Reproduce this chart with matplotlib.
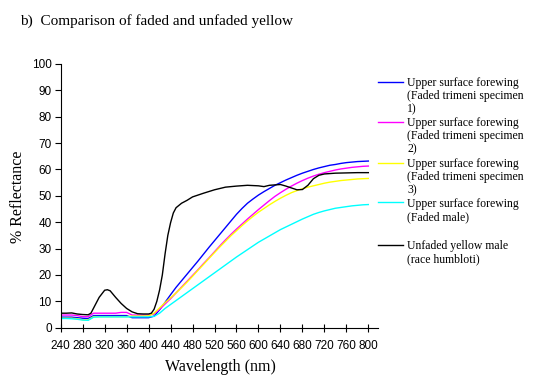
#!/usr/bin/env python3
# Reflectance spectra: faded vs unfaded yellow

import matplotlib
matplotlib.use("Agg")
import matplotlib.pyplot as plt
from matplotlib.lines import Line2D

# wavelength grid (nm) for the four faded curves
wl = list(range(240, 801, 10))

spec1 = [4.0, 4.0, 4.0, 3.8, 3.6, 3.5, 4.6, 4.6, 4.6, 4.6, 4.6, 4.6, 4.6, 3.8, 3.8,
         3.8, 3.8, 4.4, 6.8, 9.6, 12.5, 15.3, 17.8, 20.3, 22.8, 25.3, 27.9, 30.5,
         33.0, 35.5, 38.0, 40.5, 43.0, 45.2, 47.2, 48.8, 50.3, 51.6, 52.8, 54.0,
         55.0, 56.0, 56.9, 57.8, 58.6, 59.3, 60.0, 60.6, 61.1, 61.6, 61.9, 62.3,
         62.6, 62.8, 63.0, 63.1, 63.2]
spec2 = [4.8, 4.8, 4.8, 4.6, 4.2, 4.2, 5.5, 5.5, 5.5, 5.5, 5.5, 5.8, 5.8, 4.8, 4.8,
         4.8, 4.8, 5.2, 7.0, 9.0, 11.0, 13.2, 15.4, 17.6, 19.8, 22.0, 24.3, 26.5,
         28.8, 31.1, 33.3, 35.4, 37.4, 39.3, 41.2, 43.0, 44.8, 46.5, 48.2, 49.8,
         51.2, 52.5, 53.7, 54.8, 55.8, 56.7, 57.5, 58.2, 58.8, 59.3, 59.8, 60.2,
         60.5, 60.8, 61.0, 61.2, 61.3]
spec3 = [3.6, 3.6, 3.6, 3.4, 3.0, 3.0, 4.2, 4.2, 4.2, 4.2, 4.2, 4.2, 4.2, 4.4, 4.4,
         4.4, 4.5, 5.5, 7.5, 9.5, 11.3, 13.2, 15.2, 17.3, 19.5, 21.8, 24.0, 26.3,
         28.5, 30.7, 32.8, 34.9, 36.8, 38.7, 40.5, 42.2, 43.8, 45.2, 46.6, 47.9,
         49.1, 50.2, 51.2, 52.0, 52.7, 53.3, 53.8, 54.3, 54.8, 55.2, 55.5, 55.8,
         56.0, 56.2, 56.4, 56.5, 56.6]
faded_male = [3.5, 3.5, 3.4, 3.2, 2.9, 2.8, 4.0, 4.1, 4.1, 4.1, 4.1, 4.1, 4.1, 4.1,
              4.1, 4.1, 4.1, 4.3, 5.5, 7.3, 8.8, 10.3, 11.8, 13.3, 14.8, 16.3, 17.8,
              19.3, 20.8, 22.3, 23.8, 25.3, 26.8, 28.2, 29.6, 31.0, 32.4, 33.6, 34.8,
              36.0, 37.2, 38.2, 39.2, 40.2, 41.2, 42.1, 43.0, 43.7, 44.3, 44.8, 45.3,
              45.6, 45.9, 46.2, 46.4, 46.6, 46.7]

# unfaded curve has its own, finer sampling around the steep rise
wl_unfaded = [240, 250, 260, 270, 280, 290, 295, 300, 310, 320, 325, 330, 340, 350,
              360, 370, 380, 390, 400, 405, 410, 415, 420, 425, 430, 435, 440, 445,
              450, 460, 470, 480, 500, 520, 540, 560, 580, 600, 610, 620, 640, 650,
              660, 670, 680, 690, 700, 710, 720, 740, 760, 780, 800]
unfaded = [5.5, 5.5, 5.6, 5.2, 5.0, 4.9, 5.5, 7.5, 11.5, 14.2, 14.4, 14.0, 11.5, 9.2,
           7.3, 6.0, 5.3, 5.2, 5.2, 5.5, 7.0, 10.0, 14.3, 20.0, 28.0, 35.0, 39.8, 43.5,
           45.5, 47.2, 48.3, 49.6, 51.0, 52.3, 53.3, 53.7, 54.0, 53.8, 53.5, 54.0,
           54.3, 53.7, 53.0, 52.3, 52.4, 54.0, 56.5, 57.8, 58.3, 58.6, 58.7, 58.8, 58.8]

labels = ["Upper surface forewing\n(Faded trimeni specimen\n1)",
          "Upper surface forewing\n(Faded trimeni specimen\n2)",
          "Upper surface forewing\n(Faded trimeni specimen\n3)",
          "Upper surface forewing\n(Faded male)",
          "Unfaded yellow male\n(race humbloti)"]
colors = ["#0000ff", "#ff00ff", "#ffff00", "#00ffff", "#000000"]

x_ticks = list(range(240, 801, 40))
y_ticks = list(range(0, 101, 10))

W, H = 546, 386


def main():
    fig = plt.figure(figsize=(W / 100, H / 100), dpi=100)
    ax = fig.add_axes([60.7 / W, 1 - 327.7 / H, (378 - 60.7) / W, (327.7 - 64) / H])

    series = [(wl, spec1), (wl, spec2), (wl, spec3), (wl, faded_male),
              (wl_unfaded, unfaded)]
    for (xs, ys), c in zip(series, colors):
        ax.plot(xs, ys, color=c, lw=1.0, solid_joinstyle="miter")

    ax.set_xlim(240, 817.6)
    ax.set_ylim(0, 100)
    ax.set_xticks(x_ticks)
    ax.set_yticks(y_ticks)
    for s in ["top", "right"]:
        ax.spines[s].set_visible(False)
    for s in ["left", "bottom"]:
        ax.spines[s].set_linewidth(0.8)
    ax.tick_params(axis="x", direction="inout", length=6, width=0.8, pad=6)
    ax.tick_params(axis="y", direction="out", length=4, width=0.8, pad=2.5)
    for lab in ax.get_xticklabels() + ax.get_yticklabels():
        lab.set_fontfamily("Liberation Sans")
        lab.set_fontsize(8.5)

    fig.text(20 / W, 1 - 25 / H, "b)  Comparison of faded and unfaded yellow",
             family="Liberation Serif", fontsize=11, va="baseline", ha="left")
    fig.text(18 / W, 1 - 197 / H, "% Reflectance", family="Liberation Serif",
             fontsize=11.5, rotation=90, ha="center", va="center")
    fig.text(220 / W, 1 - 367 / H, "Wavelength (nm)", family="Liberation Serif",
             fontsize=11.5, ha="center", va="center")

    # legend drawn by hand so each handle sits on the first text line
    handle_y = [81.7, 121.7, 162.7, 202.3, 245]
    for yy, c, lab in zip(handle_y, colors, labels):
        fig.add_artist(Line2D([378 / W, 403 / W], [1 - yy / H, 1 - yy / H],
                              color=c, lw=1.0))
        fig.text(407 / W, 1 - (yy - 4.5) / H, lab, family="Liberation Serif",
                 fontsize=8.5, va="top", ha="left", linespacing=1.12)

    fig.savefig("out.png", dpi=100)


if __name__ == "__main__":
    main()
